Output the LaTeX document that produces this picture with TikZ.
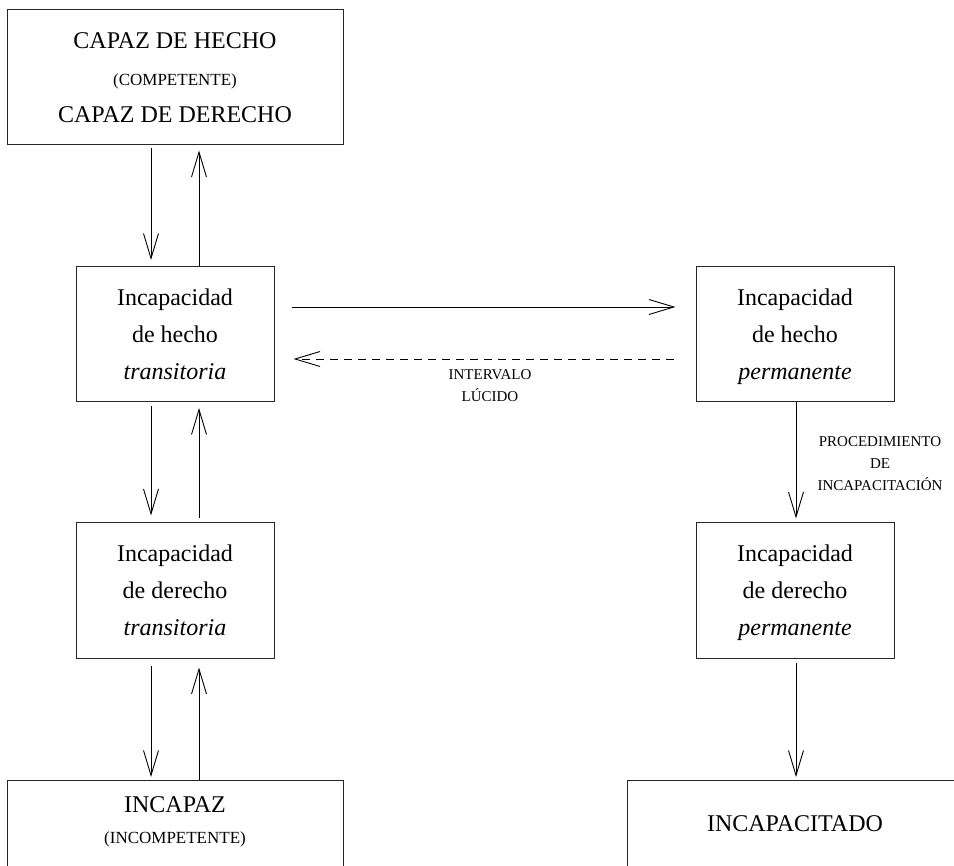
\documentclass[tikz,border=0pt]{standalone}
\usepackage{fontspec}
\setmainfont{Liberation Serif}
\usetikzlibrary{arrows.meta}
\tikzset{
  box/.style={draw=black!85, line width=1pt, rectangle, inner sep=0pt, align=center,
    font=\fontsize{24}{37}\selectfont},
  plain/.style={inner sep=0pt, align=center, font=\fontsize{24}{37}\selectfont},
  arr/.style={line width=0.9pt, -{Straight Barb[length=25pt,width=15pt,line width=0.9pt]}},
  dasharr/.style={arr, dash pattern=on 8pt off 6pt},
  lbl/.style={font=\fontsize{15}{22}\selectfont, align=center, inner sep=0pt},
}
\newcommand{\smallcaps}[1]{{\fontsize{17}{20}\selectfont #1}}
\newcommand{\topfix}{\rule{0pt}{21.5pt}}
\newcommand{\botfix}{\vphantom{p}}
\begin{document}
\begin{tikzpicture}[x=1pt,y=-1pt]
\clip (0,0) rectangle (954,866);
% boxes
\node[box, minimum width=336pt, minimum height=135pt] (top) at (175,77.5)
  {CAPAZ DE HECHO\\\smallcaps{(COMPETENTE)}\\CAPAZ DE DERECHO};
\node[box, minimum width=198pt, minimum height=135pt] (l1) at (175,334)
  {\topfix Incapacidad\\de hecho\\\textit{transitoria}\botfix};
\node[box, minimum width=198pt, minimum height=135pt] (r1) at (795,334)
  {\topfix Incapacidad\\de hecho\\\textit{permanente}\botfix};
\node[box, minimum width=198pt, minimum height=135pt] (l2) at (175,590.5)
  {\topfix Incapacidad\\de derecho\\\textit{transitoria}\botfix};
\node[box, minimum width=198pt, minimum height=135pt] (r2) at (795,590.5)
  {\topfix Incapacidad\\de derecho\\\textit{permanente}\botfix};
\node[box, minimum width=336pt, minimum height=140pt, anchor=north] (bl) at (175,780) {};
\node[plain] (blt) at (175,822) {INCAPAZ\\[-6pt]\smallcaps{(INCOMPETENTE)}};
\node[box, minimum width=338pt, minimum height=140pt, anchor=north] (br) at (796,780) {};
\node[plain] (brt) at (795,824) {INCAPACITADO};
% vertical arrows, left column
\draw[arr, shorten <=3pt, shorten >=6pt] (151,0 |- top.south) -- (151,0 |- l1.north);
\draw[arr, shorten >=5pt] (199,0 |- l1.north) -- (199,0 |- top.south);
\draw[arr, shorten <=4pt, shorten >=7pt] (151,0 |- l1.south) -- (151,0 |- l2.north);
\draw[arr, shorten <=4pt, shorten >=6pt] (199,0 |- l2.north) -- (199,0 |- l1.south);
\draw[arr, shorten <=7pt, shorten >=3pt] (151,0 |- l2.south) -- (151,0 |- bl.north);
\draw[arr, shorten >=9pt] (199,0 |- bl.north) -- (199,0 |- l2.south);
% right column
\draw[arr, shorten >=4pt] (796,0 |- r1.south) -- (796,0 |- r2.north);
\draw[arr, shorten <=4pt, shorten >=3pt] (796,0 |- r2.south) -- (796,0 |- br.north);
% horizontal arrows
\draw[arr, shorten <=17pt, shorten >=20pt] (l1.east |- 0,307) -- (r1.west |- 0,307);
\draw[dasharr, shorten <=22pt, shorten >=19pt] (r1.west |- 0,359) -- (l1.east |- 0,359);
% labels
\node[lbl] (iv) at (490,386) {INTERVALO\\LÚCIDO};
\node[lbl] (proc) at (880,464) {PROCEDIMIENTO\\DE\\INCAPACITACIÓN};
\end{tikzpicture}
\end{document}
